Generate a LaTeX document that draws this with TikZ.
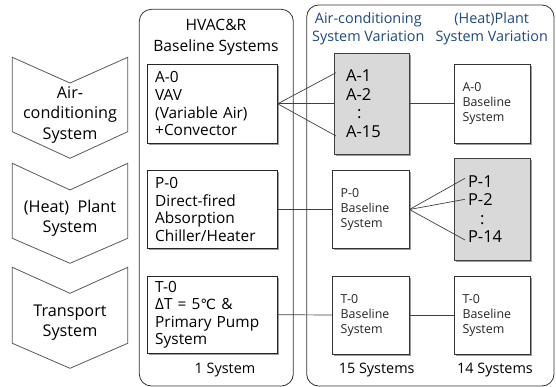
\documentclass[tikz,border=0pt]{standalone}
\usepackage{fontspec}
\setmainfont{Open Sans}
\newfontfamily\dejavu{DejaVu Sans}
\usetikzlibrary{shadows}
\definecolor{ttlblue}{HTML}{1F497D}
\definecolor{grayfill}{HTML}{D9D9D9}
\definecolor{linegray}{HTML}{404040}
\tikzset{
  chev/.style={draw=black!65, line width=0.8pt, fill=white, line join=miter},
  chevtxt/.style={align=center, font=\fontsize{16.2}{20.5}\selectfont, inner sep=0pt},
  boxshadow/.style={drop shadow={shadow xshift=1.6pt, shadow yshift=-1.6pt, fill=black!55, opacity=0.7}},
  bigbox/.style={draw=black!85, line width=0.8pt, fill=white, rectangle, inner xsep=7.5pt, inner ysep=0pt,
    align=left, font=\fontsize{15.4}{17.6}\selectfont, boxshadow},
  smallbox/.style={draw=black!80, line width=0.8pt, fill=white, rectangle, inner xsep=8pt, inner ysep=0pt,
    align=left, font=\fontsize{12.4}{15}\selectfont, text=black!85, boxshadow},
  graybox/.style={draw=black!75, line width=0.8pt, fill=grayfill, rectangle, inner xsep=11.5pt, inner ysep=0pt,
    align=left, font=\fontsize{16.5}{18.5}\selectfont, boxshadow},
  panel/.style={draw=black!80, line width=0.8pt, rounded corners=12pt},
  ttl/.style={align=center, font=\fontsize{15.6}{21}\selectfont, inner sep=0pt},
  bluettl/.style={align=center, font=\fontsize{14.4}{18.3}\selectfont, text=ttlblue, inner sep=0pt},
  foot/.style={font=\fontsize{14.4}{17}\selectfont, inner sep=0pt},
  conn/.style={draw=linegray, line width=0.7pt},
}
\begin{document}
\begin{tikzpicture}[x=1pt,y=-1pt]
\useasboundingbox (0,0) rectangle (556,387);
% chevrons
\draw[chev] (12.3,57.3) -- (70,83) -- (127.7,57.3) -- (127.7,131.7) -- (70,158.3) -- (12.3,131.7) -- cycle;
\draw[chev] (12.3,163.3) -- (70,190) -- (127.7,163.3) -- (127.7,238.3) -- (70,263.3) -- (12.3,238.3) -- cycle;
\draw[chev] (12.3,267.3) -- (70,293.3) -- (127.7,267.3) -- (127.7,343.3) -- (70,368.3) -- (12.3,343.3) -- cycle;
\node[chevtxt] (c1) at (70,115) {Air-\\conditioning\\System};
\node[chevtxt] (c2) at (70,218.5) {(Heat)~ Plant\\System};
\node[chevtxt] (c3) at (70,322.5) {Transport\\System};
% panels
\draw[panel] (139.3,9.3) rectangle (293.3,386);
\draw[panel] (306.7,5) rectangle (554,386);
\node[ttl] (t1) at (216,37.5) {HVAC\&R\\Baseline Systems};
\node[bluettl] (t2) at (368.3,29) {Air-conditioning\\System Variation};
\node[bluettl] (t3) at (491.7,29) {(Heat)Plant\\System Variation};
% baseline boxes
\node[bigbox, minimum width=129.6pt, minimum height=79pt, text width=114.6pt] (A0) at (212.5,103.8)
  {A-0\\VAV\\(Variable Air)\\+Convector};
\node[bigbox, minimum width=129.6pt, minimum height=77.6pt, text width=114.6pt] (P0) at (212.5,209.5)
  {P-0\\Direct-fired\\Absorption\\Chiller/Heater};
\node[bigbox, minimum width=129.6pt, minimum height=77.3pt, text width=114.6pt] (T0) at (212.5,314.7)
  {T-0\\ΔT = 5{\dejavu\fontsize{14}{17.6}\selectfont ℃} \&\\Primary Pump\\System};
% variation boxes
\node[graybox, minimum width=74.7pt, minimum height=101pt, text width=51pt] (Ag) at (371.7,103.8)
  {A-1\\A-2\\\hspace*{11pt}:\\A-15};
\node[smallbox, minimum width=76.4pt, minimum height=79pt, text width=60pt] (A0b) at (492.5,103.8)
  {A-0\\Baseline\\System};
\node[smallbox, minimum width=76.7pt, minimum height=77.6pt, text width=60pt] (P0b) at (370.7,209.5)
  {P-0\\Baseline\\System};
\node[graybox, minimum width=76.4pt, minimum height=101.7pt, text width=49pt, inner xsep=13.5pt] (Pg) at (492.5,209.2)
  {P-1\\P-2\\\hspace*{12pt}:\\P-14};
\node[smallbox, minimum width=76.7pt, minimum height=78pt, text width=60pt] (T0m) at (370.7,315)
  {T-0\\Baseline\\System};
\node[smallbox, minimum width=76.4pt, minimum height=78pt, text width=60pt] (T0r) at (492.5,315)
  {T-0\\Baseline\\System};
% footers
\node[foot] (f1) at (225,370) {1 System};
\node[foot] (f2) at (376.7,370) {15 Systems};
\node[foot] (f3) at (495,370) {14 Systems};
% connector end points
\coordinate (a1e) at (336,72.7);
\coordinate (a15e) at (336,136);
\coordinate (p1e) at (465,178.3);
\coordinate (p2e) at (465,199.3);
\coordinate (p14e) at (465,240);
% connectors
\draw[conn] (A0.east) -- (a1e);
\draw[conn] (A0.east) -- (Ag.west);
\draw[conn] (A0.east) -- (a15e);
\draw[conn] (Ag.east) -- (A0b.west);
\draw[conn] (P0.east) -- (P0b.west);
\draw[conn] (P0b.east) -- (p1e);
\draw[conn] (P0b.east) -- (p2e);
\draw[conn] (P0b.east) -- (p14e);
\draw[conn] (T0.east) -- (T0m.west);
\draw[conn] (T0m.east) -- (T0r.west);
\end{tikzpicture}
\end{document}
